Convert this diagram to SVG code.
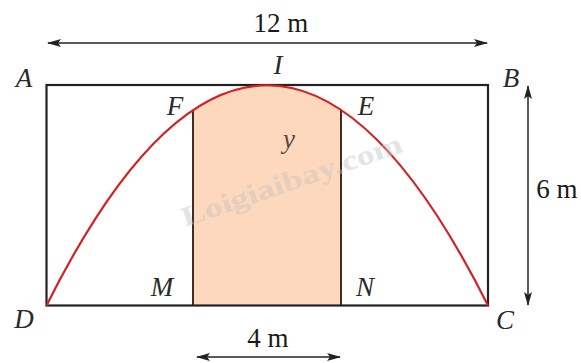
<svg xmlns="http://www.w3.org/2000/svg" width="581" height="363" viewBox="0 0 581 363">
  <style>
    .pt { font-family: "Liberation Serif", "Times New Roman", serif; font-style: italic; font-size: 27px; fill: #2a2a2a; text-anchor: middle; }
    .dim { font-family: "Liberation Serif", "Times New Roman", serif; font-size: 27px; fill: #1a1a1a; text-anchor: middle; }
    .frame { fill: none; stroke: #222; stroke-width: 2.2; }
    .curve { fill: none; stroke: #d42222; stroke-width: 2.2; }
    .side { fill: none; stroke: #3f2c22; stroke-width: 2; }
    .arrow { fill: none; stroke: #222; stroke-width: 1.5; marker-start: url(#ah); marker-end: url(#ah); }
    .wm { font-family: "Liberation Serif", "Times New Roman", serif; font-weight: bold; font-size: 28px; fill: #c4c4c4; opacity: 0.45; }
  </style>
  <defs>
    <marker id="ah" viewBox="0 0 14 8" refX="13" refY="4" markerWidth="14" markerHeight="8" markerUnits="userSpaceOnUse" orient="auto-start-reverse">
      <path d="M0,0 L14,4 L0,8 L3,4 Z" fill="#222"/>
    </marker>
  </defs>
  <rect width="581" height="363" fill="#fff"/>

  <g id="shaded">
    <path d="M193,305 L193,109.67 Q267,60.33 341,109.67 L341,305 Z" fill="#fdd8bd"/>
    <line class="side" x1="193" y1="109.67" x2="193" y2="305"/>
    <line class="side" x1="341" y1="109.67" x2="341" y2="305"/>
  </g>

  <g id="rectangle">
    <rect class="frame" x="46.5" y="85" width="441.5" height="220.5"/>
  </g>

  <g id="parabola">
    <path class="curve" d="M46.5,305.5 Q267,-135 488,305.5"/>
  </g>

  <text class="wm" x="185" y="227" transform="rotate(-19 185 227)" textLength="232" lengthAdjust="spacingAndGlyphs">Loigiaibay.com</text>

  <g id="connectors">
    <line class="arrow" x1="48" y1="43" x2="487" y2="43"/>
    <line class="arrow" x1="528" y1="86" x2="528" y2="305"/>
    <line class="arrow" x1="197" y1="357" x2="340" y2="357"/>
  </g>

  <g id="labels">
    <text class="pt" x="24" y="87">A</text>
    <text class="pt" x="511" y="87">B</text>
    <text class="pt" x="505" y="329">C</text>
    <text class="pt" x="24" y="328">D</text>
    <text class="pt" x="366" y="115">E</text>
    <text class="pt" x="175" y="115">F</text>
    <text class="pt" x="278" y="74">I</text>
    <text class="pt" x="162" y="296">M</text>
    <text class="pt" x="365" y="296">N</text>
    <text class="pt" x="289" y="148" style="fill:#5a4a40">y</text>
    <text class="dim" x="281" y="32">12 m</text>
    <text class="dim" x="557" y="198">6 m</text>
    <text class="dim" x="268" y="347">4 m</text>
  </g>
</svg>
